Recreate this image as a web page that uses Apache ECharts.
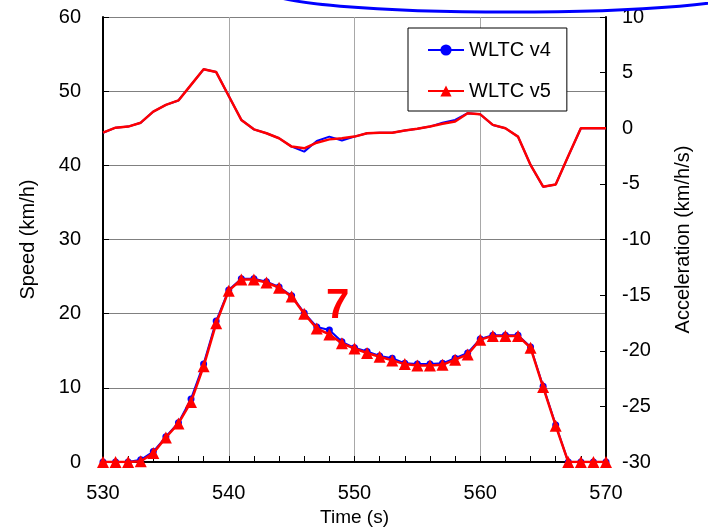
<!DOCTYPE html>
<html>
<head>
<meta charset="utf-8">
<script src="https://cdn.jsdelivr.net/npm/echarts@6/dist/echarts.min.js"></script>
<style>
  html, body { margin: 0; padding: 0; background: #fff; }
  #chart { width: 708px; height: 528px; }
</style>
</head>
<body>
<div id="chart"></div>
<script>
// 时间轴 530 ~ 570 s
let time = [530, 531, 532, 533, 534, 535, 536, 537, 538, 539,
  540, 541, 542, 543, 544, 545, 546, 547, 548, 549,
  550, 551, 552, 553, 554, 555, 556, 557, 558, 559,
  560, 561, 562, 563, 564, 565, 566, 567, 568, 569, 570]

// 车速 km/h
let speedV4 = [0, 0, 0, 0.3, 1.4, 3.4, 5.3, 8.5, 13.2, 19.0,
  23.2, 24.7, 24.7, 24.3, 23.6, 22.4, 20.1, 18.2, 17.8, 16.2,
  15.4, 14.9, 14.3, 14.0, 13.3, 13.2, 13.2, 13.3, 14.0, 14.7,
  16.6, 17.1, 17.1, 17.1, 15.5, 10.2, 5.0, 0, 0, 0, 0]
let speedV5 = [0, 0, 0, 0.1, 1.2, 3.3, 5.2, 8.1, 12.9, 18.7,
  23.1, 24.6, 24.6, 24.2, 23.5, 22.3, 20.0, 18.0, 17.2, 16.0,
  15.3, 14.7, 14.2, 13.7, 13.2, 13.0, 13.0, 13.1, 13.8, 14.5,
  16.5, 17.0, 17.0, 17.0, 15.4, 10.1, 4.9, 0, 0, 0, 0]

// 加速度 km/h/s
let accV4 = [-0.4, 0.05, 0.15, 0.5, 1.5, 2.1, 2.5, 3.9, 5.3, 5.05,
  2.9, 0.75, -0.1, -0.45, -0.9, -1.65, -2.1, -1.15, -0.75, -1.1,
  -0.75, -0.45, -0.4, -0.4, -0.2, -0.05, 0.15, 0.5, 0.75, 1.35,
  1.25, 0.3, 0.0, -0.75, -3.3, -5.25, -5.05, -2.5, 0, 0, 0]
let accV5 = [-0.4, 0.05, 0.15, 0.5, 1.5, 2.1, 2.5, 3.9, 5.3, 5.05,
  2.9, 0.75, -0.1, -0.45, -0.9, -1.65, -1.8, -1.3, -1.0, -0.9,
  -0.75, -0.45, -0.4, -0.4, -0.2, -0.05, 0.15, 0.4, 0.6, 1.35,
  1.25, 0.3, 0.0, -0.75, -3.3, -5.25, -5.05, -2.5, 0, 0, 0]

let legendNames = ['WLTC v4', 'WLTC v5']
let font = 'Liberation Sans'

function pairs(ys) {
  return time.map((t, i) => [t, ys[i]])
}

let option = {
  animation: false,
  backgroundColor: '#fff',
  grid: { left: 103, right: 102, top: 17, bottom: 66, outerBoundsMode: 'none' },
  legend: {
    data: legendNames,
    orient: 'vertical',
    left: 408,
    top: 28,
    padding: [12, 16, 10, 19],
    itemGap: 21,
    itemWidth: 36,
    itemHeight: 14,
    backgroundColor: '#fff',
    borderColor: '#000',
    borderWidth: 1,
    textStyle: { fontSize: 20, color: '#000', fontFamily: font }
  },
  xAxis: {
    type: 'value',
    min: 530,
    max: 570,
    interval: 10,
    name: 'Time (s)',
    nameLocation: 'middle',
    nameGap: 43,
    nameTextStyle: { fontSize: 19, color: '#000', fontFamily: font },
    axisLine: { lineStyle: { color: '#000', width: 2 } },
    axisTick: { inside: true, length: 6, lineStyle: { color: '#000' } },
    minorTick: { show: true, splitNumber: 5, length: 6, lineStyle: { color: '#000' } },
    axisLabel: { fontSize: 20, color: '#000', fontFamily: font, margin: 21 },
    splitLine: { show: true, lineStyle: { color: '#a8a8a8', width: 1 } }
  },
  yAxis: [{
    type: 'value',
    min: 0,
    max: 60,
    interval: 10,
    name: 'Speed (km/h)',
    nameLocation: 'middle',
    nameGap: 65,
    nameTextStyle: { fontSize: 20, color: '#000', fontFamily: font },
    axisLine: { show: true, lineStyle: { color: '#000', width: 2 } },
    axisTick: { show: true, inside: true, length: 6, lineStyle: { color: '#000' } },
    axisLabel: { fontSize: 20, color: '#000', fontFamily: font, margin: 22 },
    splitLine: { show: true, lineStyle: { color: '#808080', width: 1 } }
  }, {
    type: 'value',
    position: 'right',
    min: -30,
    max: 10,
    interval: 5,
    name: 'Acceleration (km/h/s)',
    nameLocation: 'middle',
    nameRotate: 90,
    nameGap: 67,
    nameTextStyle: { fontSize: 20, color: '#000', fontFamily: font },
    axisLine: { show: true, lineStyle: { color: '#000', width: 2 } },
    axisTick: { show: true, inside: true, length: 6, lineStyle: { color: '#000' } },
    axisLabel: { fontSize: 20, color: '#000', fontFamily: font, margin: 16 },
    splitLine: { show: false }
  }],
  series: [{
    name: 'WLTC v4',
    type: 'line',
    yAxisIndex: 0,
    data: pairs(speedV4),
    color: '#0000ff',
    symbol: 'circle',
    symbolSize: 7,
    lineStyle: { width: 2 },
    z: 3
  }, {
    name: 'WLTC v4 acc',
    type: 'line',
    yAxisIndex: 1,
    data: pairs(accV4),
    color: '#0000ff',
    showSymbol: false,
    lineStyle: { width: 2 },
    z: 3
  }, {
    name: 'WLTC v5',
    type: 'line',
    yAxisIndex: 0,
    data: pairs(speedV5),
    color: '#ff0000',
    symbol: 'triangle',
    symbolSize: 12,
    lineStyle: { width: 2.5 },
    z: 4
  }, {
    name: 'WLTC v5 acc',
    type: 'line',
    yAxisIndex: 1,
    data: pairs(accV5),
    color: '#ff0000',
    showSymbol: false,
    lineStyle: { width: 2.5 },
    z: 4
  }],
  graphic: [{
    // 上方的蓝色椭圆标注
    type: 'ellipse',
    shape: { cx: 510, cy: -8, rx: 240, ry: 20 },
    style: { fill: 'none', stroke: '#0000ff', lineWidth: 3 },
    z: 10
  }, {
    type: 'text',
    left: 326,
    top: 285,
    style: {
      text: '7',
      fill: '#ff0000',
      fontSize: 42,
      fontWeight: 'bold',
      fontFamily: font
    },
    z: 10
  }]
}

echarts.init(document.getElementById('chart')).setOption(option)
</script>
</body>
</html>
